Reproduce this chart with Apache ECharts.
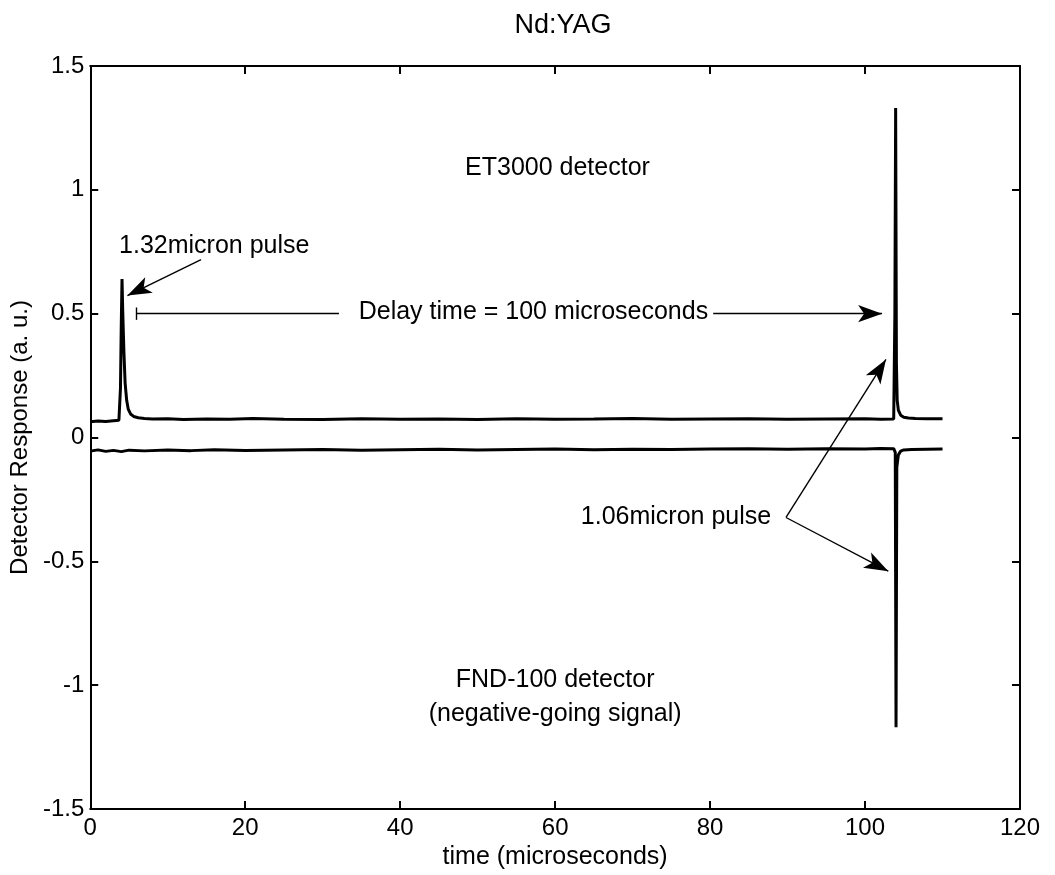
<!DOCTYPE html>
<html><head><meta charset="utf-8">
<script src="https://cdn.jsdelivr.net/npm/echarts@6/dist/echarts.min.js"></script>
<style>html,body{margin:0;padding:0;background:#fff}#c{width:1055px;height:875px}</style>
</head><body><div id="c"></div>
<script>
// ET3000 detector trace (upper)
const upperT = [0,1,2,3,3.7,3.9,4.0,4.1,4.2,4.35,4.5,4.7,4.9,5.2,5.6,6.2,7,8,10,12,15,18,21,25,30,35,40,45,50,55,60,65,70,75,80,85,90,95,100,102,103.7,103.85,103.95,104.05,104.15,104.3,104.6,105.0,105.6,106.5,108,110];
const upperV = [0.064,0.067,0.065,0.068,0.07,0.2,0.45,0.64,0.5,0.34,0.22,0.15,0.115,0.095,0.085,0.08,0.077,0.075,0.076,0.073,0.075,0.074,0.077,0.074,0.073,0.076,0.074,0.075,0.073,0.076,0.074,0.075,0.077,0.074,0.075,0.076,0.074,0.075,0.076,0.074,0.075,0.5,1.33,0.3,0.15,0.11,0.09,0.082,0.079,0.077,0.076,0.076];
// FND-100 detector trace (lower, negative-going)
const lowerT = [0,1,2,3,4,5,7,10,13,16,20,25,30,35,40,45,50,55,60,65,70,75,80,85,90,95,100,102,103.7,103.9,104.0,104.1,104.3,104.6,105,106,108,110];
const lowerV = [-0.055,-0.05,-0.056,-0.052,-0.057,-0.051,-0.054,-0.05,-0.053,-0.049,-0.052,-0.05,-0.048,-0.051,-0.049,-0.047,-0.05,-0.048,-0.046,-0.049,-0.047,-0.048,-0.046,-0.045,-0.047,-0.045,-0.046,-0.044,-0.045,-0.06,-1.17,-0.12,-0.07,-0.055,-0.05,-0.048,-0.047,-0.046];

const xTicks = [0,20,40,60,80,100,120];
const yTicks = [-1.5,-1,-0.5,0,0.5,1,1.5];

// annotation texts [x, y, text]
const notes = [
  [60.3, 1.089, 'ET3000 detector'],
  [16.0, 0.774, '1.32micron pulse'],
  [57.2, 0.505, 'Delay time = 100 microseconds'],
  [75.6, -0.32, '1.06micron pulse'],
  [60.0, -0.98, 'FND-100 detector'],
  [60.0, -1.115, '(negative-going signal)']
];
// arrows [[x0,y0],[x1,y1]]
const arrows = [
  [[14.3, 0.718],[4.8, 0.573]],
  [[80.4, 0.5],[102.2, 0.5]],
  [[89.8, -0.323],[102.7, 0.315]],
  [[89.8, -0.323],[103.0, -0.54]]
];
const plainLines = [
  [[5.9, 0.5],[32.1, 0.5]],
  [[5.9, 0.475],[5.9, 0.525]]
];

function pairs(t, v){ return t.map((x,i)=>[x,v[i]]); }

const font = 'Liberation Sans, Arial, Helvetica, sans-serif';
const chart = echarts.init(document.getElementById('c'), null, {renderer:'canvas'});
const axCommon = {
  axisLine:{show:true, onZero:false, lineStyle:{color:'#000', width:2}},
  axisTick:{show:true, inside:true, length:8, lineStyle:{color:'#000', width:2}},
  splitLine:{show:false}
};
chart.setOption({
  animation:false,
  backgroundColor:'#fff',
  title:{text:'Nd:YAG', left:558, textAlign:'center', top:7, textStyle:{fontFamily:font, fontSize:27, fontWeight:'normal', color:'#000'}},
  grid:{left:90, right:35, top:66, bottom:65},
  xAxis:[
    Object.assign({type:'value', min:0, max:120, interval:20, position:'bottom',
      name:'time (microseconds)', nameLocation:'middle', nameGap:36,
      nameTextStyle:{fontFamily:font, fontSize:25, color:'#000'},
      axisLabel:{fontFamily:font, fontSize:24, color:'#000', margin:7}}, axCommon),
    Object.assign({type:'value', min:0, max:120, interval:20, position:'top', axisLabel:{show:false}}, axCommon)
  ],
  yAxis:[
    Object.assign({type:'value', min:-1.5, max:1.5, interval:0.5, position:'left',
      name:'Detector Response (a. u.)', nameLocation:'middle', nameGap:56,
      nameTextStyle:{fontFamily:font, fontSize:24, color:'#000'},
      axisLabel:{fontFamily:font, fontSize:24, color:'#000', margin:6,
        formatter:v=>String(v)}}, axCommon),
    Object.assign({type:'value', min:-1.5, max:1.5, interval:0.5, position:'right', axisLabel:{show:false}}, axCommon)
  ],
  series:[
    {type:'line', data:pairs(upperT, upperV), showSymbol:false, symbol:'none',
      lineStyle:{color:'#000', width:3}},
    {type:'line', data:pairs(lowerT, lowerV), showSymbol:false, symbol:'none',
      lineStyle:{color:'#000', width:3}},
    {type:'scatter', data:notes.map(n=>({value:[n[0],n[1]], name:n[2]})), symbolSize:0,
      itemStyle:{opacity:1, color:'#000'},
      label:{show:true, position:[0,0], align:'center', verticalAlign:'middle', opacity:1,
        formatter:p=>p.name, fontFamily:font, fontSize:25, color:'#000', textBorderWidth:0},
      silent:true,
      markLine:{silent:true, animation:false,
        symbol:['none','arrow'], symbolSize:[13,24],
        lineStyle:{color:'#000', width:1.4, type:'solid'}, label:{show:false},
        data:arrows.map(a=>[{coord:a[0]},{coord:a[1]}]).concat(
          plainLines.map(a=>[{coord:a[0], symbol:'none'},{coord:a[1], symbol:'none'}]))
      }
    }
  ]
});
</script></body></html>
